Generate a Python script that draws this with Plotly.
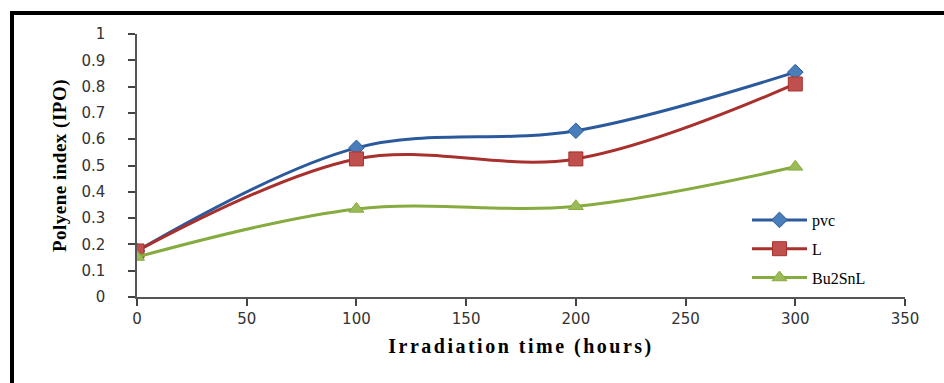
import plotly.graph_objects as go

# Irradiation time (hours) and polyene index for each sample
hours = [0, 100, 200, 300]
pvc = [0.175, 0.567, 0.632, 0.855]
ligand_L = [0.175, 0.525, 0.525, 0.81]
bu2snl = [0.152, 0.335, 0.345, 0.495]

series_names = ["pvc", "L", "Bu2SnL"]
series_values = [pvc, ligand_L, bu2snl]
line_colors = ["#2A5A9C", "#A8302D", "#86AB3E"]
marker_colors = ["#4A7EBB", "#C0504D", "#9BBB59"]
marker_symbols = ["diamond", "square", "triangle-up"]
marker_sizes = [12, 14, 13]

W, H = 944, 383
L_M, R_M, T_M, B_M = 137, 39, 34, 86
pw, ph = W - L_M - R_M, H - T_M - B_M

fig = go.Figure()
for i, (name, vals) in enumerate(zip(series_names, series_values)):
    fig.add_trace(go.Scatter(
        x=hours, y=vals, name=name, mode="lines+markers",
        legendgroup=name,
        line=dict(color=line_colors[i], width=3, shape="spline", smoothing=1.0),
        marker=dict(symbol=marker_symbols[i], size=marker_sizes[i],
                    color=marker_colors[i],
                    line=dict(color=line_colors[i], width=1)),
    ))

axis_font = dict(family="DejaVu Sans", size=15, color="#333333")
title_font = dict(family="Liberation Serif", size=19, color="#000000")

fig.update_layout(
    width=W, height=H,
    margin=dict(l=L_M, r=R_M, t=T_M, b=B_M),
    paper_bgcolor="white", plot_bgcolor="white",
    xaxis=dict(
        range=[0, 350], tickvals=[0, 50, 100, 150, 200, 250, 300, 350],
        showgrid=False, zeroline=False, showline=True, linecolor="#555555",
        linewidth=1.5, ticks="outside", ticklen=7, tickwidth=1.5, tickcolor="#444444",
        tickfont=axis_font,
        title=dict(text='<span style="letter-spacing:2.5px"><b>Irradiation time (hours)</b></span>',
                   font=dict(family="Liberation Serif", size=20, color="#000000"), standoff=12),
    ),
    yaxis=dict(
        range=[0, 1], tickvals=[0, 0.1, 0.2, 0.3, 0.4, 0.5, 0.6, 0.7, 0.8, 0.9, 1],
        ticktext=["0", "0.1", "0.2", "0.3", "0.4", "0.5", "0.6", "0.7", "0.8", "0.9", "1"],
        showgrid=False, zeroline=False, showline=True, linecolor="#555555",
        linewidth=1.5, ticks="outside", ticklen=7, tickwidth=1.5, tickcolor="#444444",
        tickfont=axis_font, ticklabelstandoff=20,
        title=dict(text='<span style="letter-spacing:0.5px"><b>Polyene index (IPO)</b></span>',
                   font=title_font, standoff=10),
    ),
    legend=dict(
        x=(747 - L_M) / pw, y=(297 - 203) / ph, xanchor="left", yanchor="top",
        font=dict(family="Liberation Serif", size=16, color="#000000"),
        bgcolor="rgba(0,0,0,0)", traceorder="grouped", tracegroupgap=5,
        itemwidth=55,
    ),
    showlegend=True,
)

# Heavy black frame along the left and top edges
def px_x(p):
    return (p - L_M) / pw

def px_y(p):
    return (H - B_M - p) / ph

fig.add_shape(type="line", xref="paper", yref="paper",
              x0=px_x(12), x1=px_x(12), y0=px_y(11), y1=px_y(H + 5),
              line=dict(color="black", width=4))
fig.add_shape(type="line", xref="paper", yref="paper",
              x0=px_x(10), x1=px_x(W + 5), y0=px_y(13), y1=px_y(13),
              line=dict(color="black", width=4))

fig.write_html("out.html")
